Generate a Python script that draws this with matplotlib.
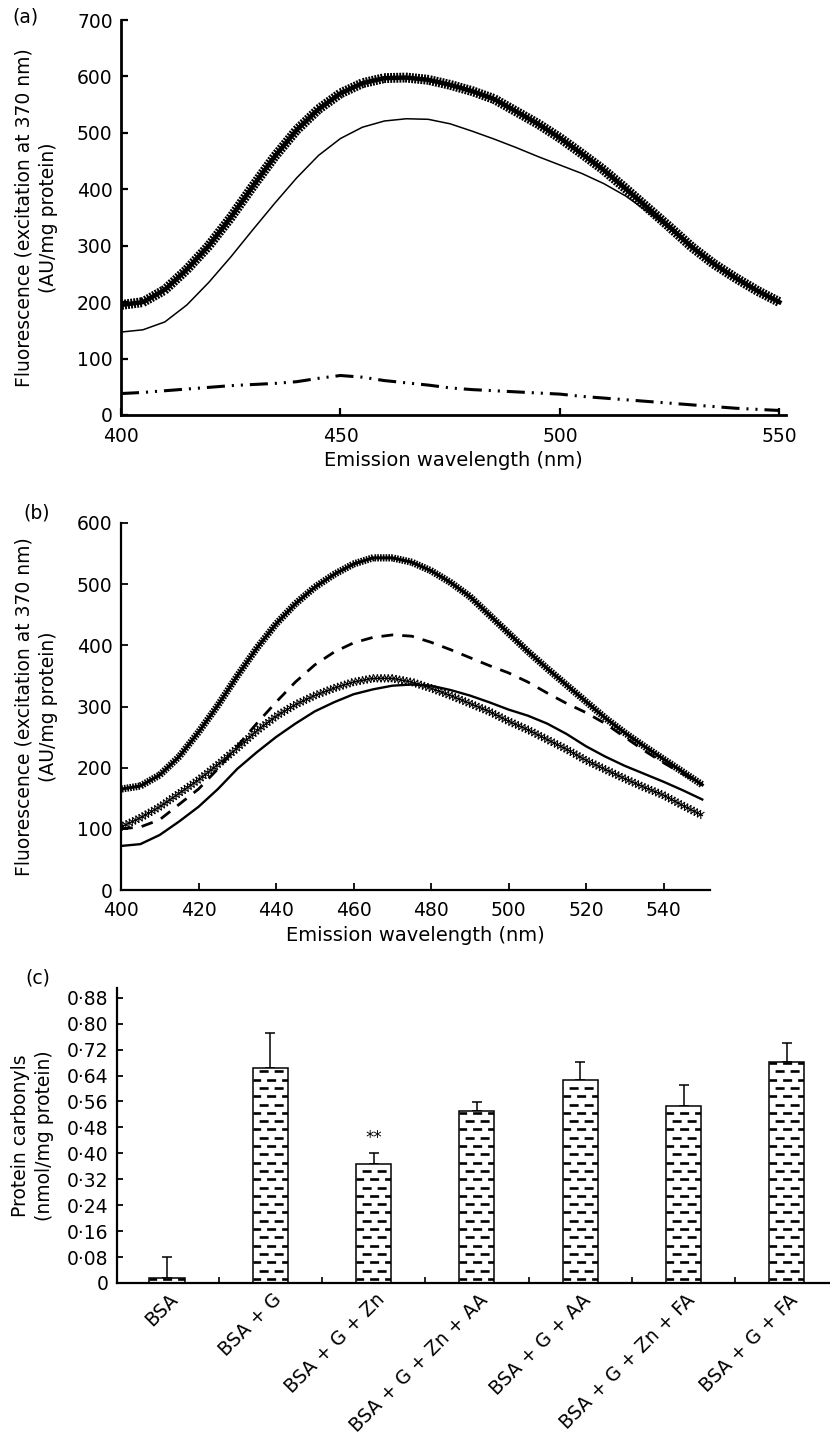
import matplotlib
matplotlib.use("Agg")
import matplotlib.pyplot as plt
import matplotlib.patheffects as pe
import matplotlib.transforms as mtransforms

plt.rcParams.update({
    'font.family': 'DejaVu Sans',
    'font.size': 13.5,
    'lines.scale_dashes': False,
})

wavelength = [400, 405, 410, 415, 420, 425, 430, 435, 440, 445, 450, 455, 460, 465, 470, 475,
              480, 485, 490, 495, 500, 505, 510, 515, 520, 525, 530, 535, 540, 545, 550]

# panel (a)
a_triangle = [195, 200, 222, 258, 300, 350, 405, 458, 505, 542, 570, 588, 597, 598, 594, 585,
              574, 560, 538, 516, 491, 463, 434, 401, 367, 333, 298, 268, 243, 220, 200]
a_solid = [147, 151, 165, 195, 235, 280, 328, 375, 420, 460, 490, 510, 521, 525, 524, 516,
           503, 489, 474, 458, 443, 428, 410, 388, 360, 330, 298, 268, 243, 220, 198]
a_dashdot = [38, 40, 43, 46, 49, 52, 54, 56, 59, 65, 70, 67, 61, 57, 53, 48,
             45, 43, 41, 39, 37, 33, 30, 27, 24, 21, 18, 15, 12, 10, 8]

# panel (b)
b_triangle = [165, 170, 188, 218, 258, 302, 350, 395, 435, 468, 495, 516, 533, 543, 543, 536,
              522, 503, 480, 450, 420, 390, 362, 335, 308, 281, 257, 235, 214, 193, 172]
b_dashed = [100, 103, 115, 140, 165, 198, 235, 272, 307, 340, 368, 389, 404, 413, 417, 415,
            405, 393, 380, 367, 355, 340, 322, 305, 290, 272, 250, 228, 208, 190, 172]
b_cross = [103, 118, 136, 158, 180, 205, 232, 260, 284, 303, 318, 330, 340, 346, 346, 340,
           330, 318, 305, 292, 276, 262, 246, 230, 212, 197, 182, 168, 155, 138, 122]
b_solid = [72, 75, 90, 112, 136, 165, 198, 225, 250, 272, 292, 307, 320, 328, 334, 336,
           334, 327, 318, 307, 295, 285, 272, 255, 235, 218, 203, 190, 177, 163, 148]

# panel (c)
groups = ['BSA', 'BSA + G', 'BSA + G + Zn', 'BSA + G + Zn + AA', 'BSA + G + AA',
          'BSA + G + Zn + FA', 'BSA + G + FA']
carbonyl = [0.015, 0.662, 0.366, 0.532, 0.627, 0.547, 0.682]
carbonyl_sd = [0.065, 0.110, 0.035, 0.026, 0.055, 0.065, 0.059]
c_ticks = [0, 0.08, 0.16, 0.24, 0.32, 0.40, 0.48, 0.56, 0.64, 0.72, 0.80, 0.88]


def band(lw_tick=1.3, spacing=2.2, length=1.2):
    return [pe.TickedStroke(angle=90, spacing=spacing, length=length, linewidth=lw_tick),
            pe.TickedStroke(angle=-90, spacing=spacing, length=length, linewidth=lw_tick),
            pe.Normal()]


def crosses():
    return [pe.TickedStroke(angle=60, spacing=2.6, length=1.1, linewidth=0.8),
            pe.TickedStroke(angle=-120, spacing=2.6, length=1.1, linewidth=0.8),
            pe.TickedStroke(angle=120, spacing=2.6, length=1.1, linewidth=0.8),
            pe.TickedStroke(angle=-60, spacing=2.6, length=1.1, linewidth=0.8),
            pe.Normal()]


def style(ax, spine_w, xpad=6):
    for s in ['top', 'right']:
        ax.spines[s].set_visible(False)
    for s in ['left', 'bottom']:
        ax.spines[s].set_linewidth(spine_w)
    ax.tick_params(direction='in', length=5, width=spine_w * 0.8, pad=6)
    ax.tick_params(axis='x', pad=xpad)


fig = plt.figure(figsize=(8.3, 14.41), dpi=100)
W, H = 830, 1441

# ---- (a)
ax = fig.add_axes([121 / W, 1 - 415 / H, 665 / W, 395 / H])
ax.plot(wavelength, a_dashdot, color='k', lw=2.2,
        linestyle=(0, (13, 5, 1.5, 5, 1.5, 5)))
ax.plot(wavelength, a_solid, color='k', lw=1.1)
ax.plot(wavelength, a_triangle, color='k', lw=3.2, path_effects=band(1.4, 2.2, 1.3))
ax.set_xlim(400, 551.5)
ax.set_ylim(0, 700)
ax.set_xticks([400, 450, 500, 550])
ax.set_yticks(range(0, 701, 100))
style(ax, 2.0, xpad=8.5)
ax.set_xlabel('Emission wavelength (nm)', fontsize=14)
ax.set_ylabel('Fluorescence (excitation at 370 nm)\n(AU/mg protein)', linespacing=1.35)
ax.yaxis.set_label_coords(-0.095, 0.5)
fig.text(12 / W, 1 - 17 / H, '(a)', ha='left', va='center')

# ---- (b)
ax = fig.add_axes([121 / W, 1 - 890 / H, 589 / W, 367 / H])
ax.plot(wavelength, b_solid, color='k', lw=1.7)
ax.plot(wavelength, b_dashed, color='k', lw=2.0, linestyle=(0, (8.5, 6.5)))
ax.plot(wavelength, b_cross, color='k', lw=1.1, path_effects=crosses())
ax.plot(wavelength, b_triangle, color='k', lw=2.2, path_effects=band(1.2, 2.0, 1.0))
ax.set_xlim(400, 552)
ax.set_ylim(0, 600)
ax.set_xticks(range(400, 541, 20))
ax.set_yticks(range(0, 601, 100))
style(ax, 1.6, xpad=8)
ax.set_xlabel('Emission wavelength (nm)', fontsize=14)
ax.set_ylabel('Fluorescence (excitation at 370 nm)\n(AU/mg protein)', linespacing=1.35)
ax.yaxis.set_label_coords(-0.107, 0.5)
fig.text(23 / W, 1 - 513 / H, '(b)', ha='left', va='center')

# ---- (c)
ax = fig.add_axes([117 / W, 1 - 1283 / H, 713 / W, 295 / H])
pos = list(range(len(groups)))
bars = ax.bar(pos, carbonyl, width=0.34, color='white', edgecolor='k', linewidth=1.1, zorder=2)
ax.errorbar(pos, carbonyl, yerr=[[0] * len(pos), carbonyl_sd], fmt='none', ecolor='k',
            elinewidth=1.1, capsize=3.6, capthick=1.1, zorder=1)

# dashed brick hatch inside each bar
row = 0.0256
for rect in bars.patches:
    x0, w, h = rect.get_x(), rect.get_width(), rect.get_height()
    j = 0
    while (j + 0.5) * row < h:
        y = (j + 0.5) * row
        ln, = ax.plot([x0, x0 + w], [y, y], color='k', lw=1.9, solid_capstyle='butt',
                      dash_capstyle='butt', linestyle=(5.4 * (j % 2) + 1, (6.5, 4.3)), zorder=3)
        ln.set_clip_path(rect)
        j += 1

ax.annotate('**', (2, carbonyl[2] + carbonyl_sd[2]), xytext=(0, 4),
            textcoords='offset points', ha='center', va='bottom', fontsize=12)
ax.set_xlim(-0.484, 6.418)
ax.set_ylim(0, 0.91)
ax.set_yticks(c_ticks)
ax.set_yticklabels(['0'] + [('%.2f' % v).replace('.', '\u00b7') for v in c_ticks[1:]])
ax.set_xticks(pos)
ax.set_xticks([p + 0.5 for p in pos[:-1]], minor=True)
style(ax, 1.6)
ax.tick_params(axis='x', which='major', length=0, pad=10)
ax.tick_params(axis='x', which='minor', direction='in', length=4, width=1.2)
ax.tick_params(axis='y', length=4)
ax.set_xticklabels(groups, rotation=45, ha='right', va='center', rotation_mode='anchor')
shift = mtransforms.ScaledTranslation(8 / 100, 0, fig.dpi_scale_trans)
for lab in ax.get_xticklabels():
    lab.set_transform(lab.get_transform() + shift)
ax.set_ylabel('Protein carbonyls\n(nmol/mg protein)', linespacing=1.35)
ax.yaxis.set_label_coords(-0.088, 0.5)
fig.text(25 / W, 1 - 978 / H, '(c)', ha='left', va='center')

fig.savefig('out.png', dpi=100)
